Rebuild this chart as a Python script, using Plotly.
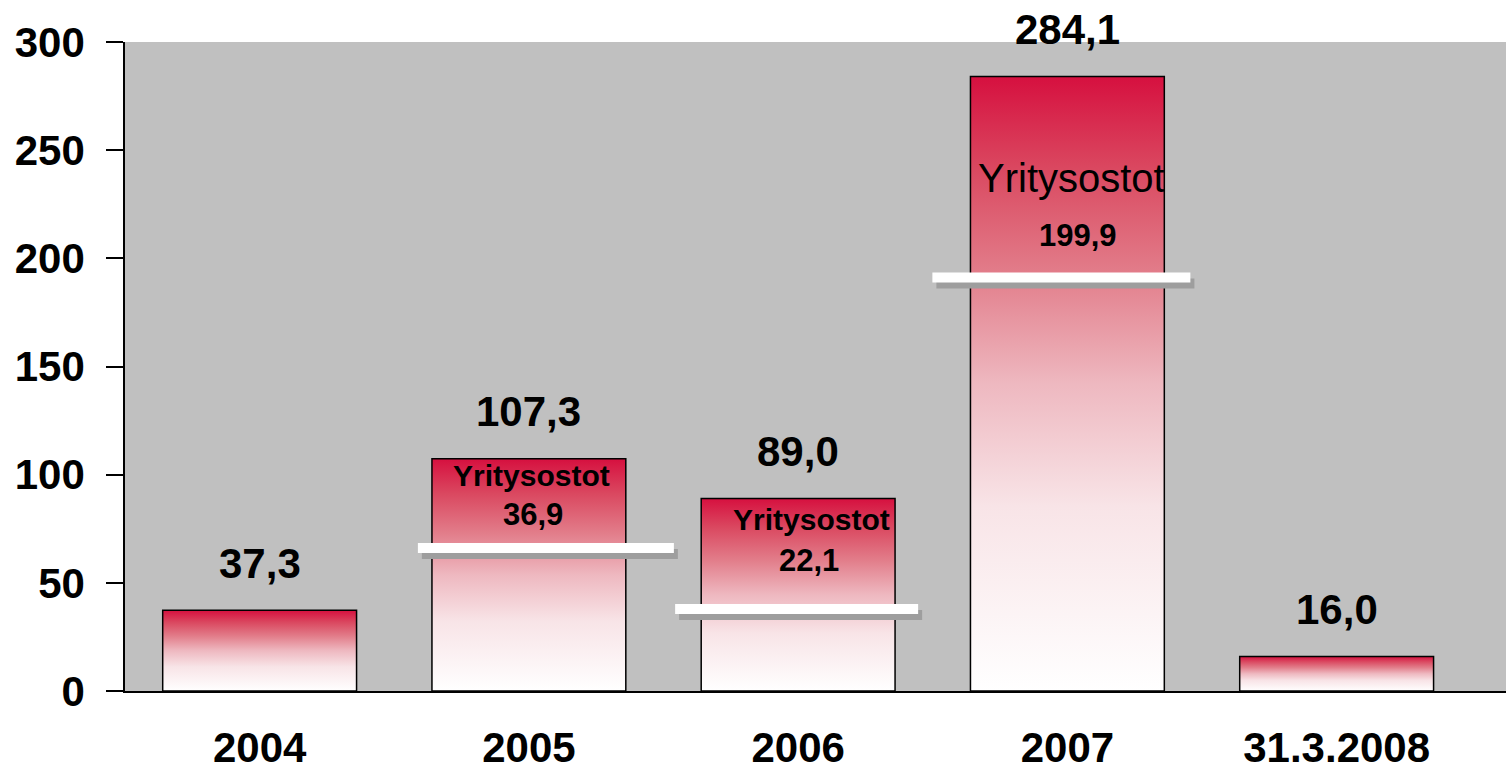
import plotly.graph_objects as go

categories = ["2004", "2005", "2006", "2007", "31.3.2008"]
totals = [37.3, 107.3, 89.0, 284.1, 16.0]
acquisitions = [None, 36.9, 22.1, 199.9, None]
acq_label = "Yritysostot"
break_levels = [None, 66.1, 37.9, 191.1, None]
y_ticks = [0, 50, 100, 150, 200, 250, 300]

FONT = "Liberation Sans, Arial, sans-serif"
BAR_W = 0.72
grad = [[0.0, "#FFFFFF"], [0.3, "#F8E4E7"], [0.5, "#EEB8C0"], [0.68, "#E27D8A"],
        [0.85, "#DA4860"], [1.0, "#D6103F"]]

def fmt(v):
    return f"{v:.1f}".replace(".", ",")

fig = go.Figure()
for i, (c, v) in enumerate(zip(categories, totals)):
    xs = [i - BAR_W / 2, i + BAR_W / 2, i + BAR_W / 2, i - BAR_W / 2, i - BAR_W / 2]
    ys = [0, 0, v, v, 0]
    fig.add_trace(go.Scatter(
        x=xs, y=ys, mode="lines", fill="toself",
        fillgradient=dict(type="vertical", colorscale=grad),
        line=dict(color="black", width=1.5),
        name=c, showlegend=False, hoverinfo="skip"))

annotations = []
for i, v in enumerate(totals):
    annotations.append(dict(x=i, y=v, xref="x", yref="y", text=fmt(v), showarrow=False,
                            yanchor="middle", yshift=47,
                            font=dict(family=FONT, size=42, color="black", weight="bold")))

# inner labels: (title font size, title weight, title dx, title dy, value size, value dx, value dy)
inner_style = {
    1: (30, "bold", 3, -17, 31, 4, -56),
    2: (30, "bold", 13, -21, 31, 11, -62),
    3: (40, "normal", 4, -102, 31, 11, -159),
}
for i, a in enumerate(acquisitions):
    if a is None:
        continue
    ts, tw, tdx, tdy, vs, vdx, vdy = inner_style[i]
    annotations.append(dict(x=i, y=totals[i], xref="x", yref="y", text=acq_label, showarrow=False,
                            yanchor="middle", xshift=tdx, yshift=tdy,
                            font=dict(family=FONT, size=ts, color="black", weight=tw)))
    annotations.append(dict(x=i, y=totals[i], xref="x", yref="y", text=fmt(a), showarrow=False,
                            yanchor="middle", xshift=vdx, yshift=vdy,
                            font=dict(family=FONT, size=vs, color="black", weight="bold")))

# break lines (pixel extents relative to bar centre)
break_px = {1: (-111, 145), 2: (-123, 120), 3: (-135, 123)}
shapes = []
for i, b in enumerate(break_levels):
    if b is None:
        continue
    l, r = break_px[i]
    shapes.append(dict(type="rect", xref="x", yref="y", xsizemode="pixel", ysizemode="pixel",
                       xanchor=i, yanchor=b, x0=l + 4, x1=r + 4, y0=-11, y1=-1,
                       fillcolor="#9E9E9E", line=dict(width=0), layer="above"))
    shapes.append(dict(type="rect", xref="x", yref="y", xsizemode="pixel", ysizemode="pixel",
                       xanchor=i, yanchor=b, x0=l, x1=r, y0=-5, y1=5,
                       fillcolor="#FFFFFF", line=dict(width=0), layer="above"))

fig.update_layout(
    width=1506, height=781,
    margin=dict(l=125, r=0, t=42, b=90, pad=0),
    paper_bgcolor="white", plot_bgcolor="#C0C0C0",
    annotations=annotations, shapes=shapes,
    xaxis=dict(range=[-0.5, 4.629], tickmode="array", tickvals=list(range(len(categories))),
               ticktext=categories, showgrid=False, zeroline=False, showline=True,
               linecolor="black", linewidth=1.5, ticks="", ticklabelstandoff=19,
               automargin=False,
               tickfont=dict(family=FONT, size=42, color="black", weight="bold")),
    yaxis=dict(range=[0, 300], tickmode="array", tickvals=y_ticks, showgrid=False,
               zeroline=False, showline=True, linecolor="black", linewidth=1.5,
               ticks="outside", ticklen=17, tickwidth=1.5, tickcolor="black",
               ticklabelstandoff=13, automargin=False,
               tickfont=dict(family=FONT, size=42, color="black", weight="bold")),
)

fig.write_html("out.html", config={"displayModeBar": False},
               post_script="document.body.style.margin='0';document.body.style.overflow='hidden';")
